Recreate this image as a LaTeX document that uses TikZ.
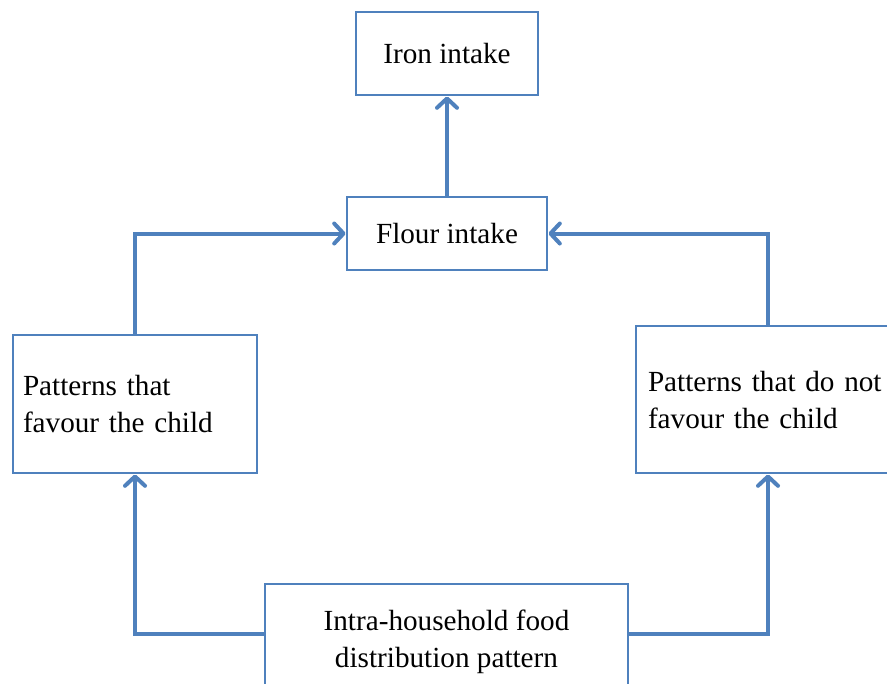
\documentclass[tikz,border=0pt]{standalone}
\usepackage{fontspec}
\setmainfont{Liberation Serif}
\usetikzlibrary{arrows.meta}
\definecolor{bl}{HTML}{4F81BD}
\begin{document}
\begin{tikzpicture}[x=0.75pt,y=-0.75pt,
  box/.style={draw=bl,line width=2.2pt,fill=white,inner sep=0pt,
    font=\fontsize{21.9}{27.75}\selectfont},
  arr/.style={draw=bl,line width=3pt,
    -{Straight Barb[length=7pt,width=15pt,line width=3pt,round]}}]
\useasboundingbox (0,0) rectangle (887,683);
\node[box,minimum width=182*0.75pt,minimum height=83*0.75pt] (iron) at (447,53.5) {Iron intake};
\node[box,minimum width=200*0.75pt,minimum height=73*0.75pt] (flour) at (447,233.5) {Flour intake};
\node[box,minimum width=244*0.75pt,minimum height=138*0.75pt,text width=224*0.75pt,align=left] (left) at (135,404) {Patterns that\\favour the child};
\node[box,minimum width=264*0.75pt,minimum height=147*0.75pt,text width=240*0.75pt,align=left] (right) at (768,399.5) {Patterns that do not\\favour the child};
\node[box,minimum width=363*0.75pt,minimum height=116*0.75pt,align=center] (bottom) at (446.5,642) {Intra-household food\\distribution pattern};
\draw[arr] (flour.north) -- (iron.south);
\draw[arr] (left.north) |- (flour.west);
\draw[arr] (right.north) |- (flour.east);
\draw[arr] ([yshift=6pt]bottom.west) -| (left.south);
\draw[arr] ([yshift=6pt]bottom.east) -| (right.south);
\end{tikzpicture}
\end{document}
